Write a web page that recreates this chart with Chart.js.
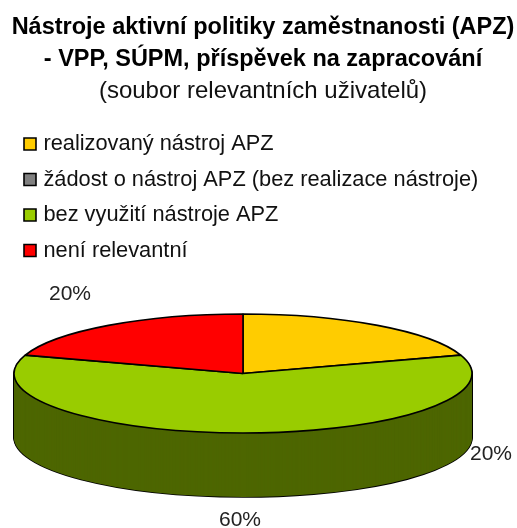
<!DOCTYPE html>
<html><head><meta charset="utf-8">
<style>html,body{margin:0;padding:0;background:#fff}canvas{display:block}</style>
<script src="https://cdn.jsdelivr.net/npm/chart.js@4"></script>
</head><body>
<canvas id="c" width="517" height="528"></canvas>
<script>
const categories = ["realizovaný nástroj APZ","žádost o nástroj APZ (bez realizace nástroje)","bez využití nástroje APZ","není relevantní"];
const values = [20,0,60,20];
const sliceColors = ["#FFCC00","#808080","#99CC00","#FF0000"];
const sideColors = ["#806600","#404040","#4D6600","#800000"];
const titleLines = ["Nástroje aktivní politiky zaměstnanosti (APZ)","- VPP, SÚPM, příspěvek na zapracování"];
const subtitleLine = "(soubor relevantních uživatelů)";

const pie3d = {cx:243, cy:373.5, rx:229, ry:59.5, depth:64, labelPos:[[491,454.5],null,[240,520],[70,294.5]]};
const legendBox = {left:13.8, top:119.4};

function strokeUntransformed(ctx, fn){
  const proto = CanvasRenderingContext2D.prototype;
  ctx.stroke = function(){ const m=ctx.getTransform(); ctx.setTransform(1,0,0,1,0,0); proto.stroke.call(ctx); ctx.setTransform(m); };
  fn();
  delete ctx.stroke;
}
const pie3dPlugin = {
  id:'pie3d',
  afterLayout(chart){
    const l = chart.legend;
    l.left = legendBox.left; l.top = legendBox.top;
    l.right = chart.width; l.bottom = chart.height;
  },
  beforeDatasetDraw(chart,args){
    const ctx = chart.ctx, arcs = args.meta.data, P = pie3d;
    const R = arcs[0].outerRadius, ox = arcs[0].x, oy = arcs[0].y;
    const place = dy => { ctx.setTransform(P.rx/R,0,0,P.ry/R,P.cx-ox*P.rx/R,P.cy+dy-oy*P.ry/R); };
    const drawWith = (arc,over) => {
      const saved = arc.options;
      const o = Object.create(saved);
      for (const k in over) Object.defineProperty(o,k,{value:over[k]});
      arc.options = o; arc.draw(ctx); arc.options = saved;
    };
    const order = arcs.map((a,i)=>i).sort((a,b)=>arcs[a].circumference-arcs[b].circumference);
    ctx.save();
    strokeUntransformed(ctx,()=>{
      for (let dy=P.depth; dy>=1; dy--){ place(dy); order.forEach(i=>drawWith(arcs[i],{backgroundColor:'#000',borderColor:'#000',borderWidth:1.6})); }
    });
    order.forEach(i=>{ for (let dy=P.depth; dy>=1; dy--){ place(dy); drawWith(arcs[i],{backgroundColor:sideColors[i],borderWidth:0}); } });
    place(0);
    strokeUntransformed(ctx,()=>{ arcs.forEach(a=>a.draw(ctx)); });
    ctx.restore();
    ctx.save();
    ctx.font = '21px "Liberation Sans"'; ctx.fillStyle='#222'; ctx.textAlign='center'; ctx.textBaseline='middle';
    values.forEach((v,i)=>{ if(v>0 && P.labelPos[i]) ctx.fillText(v+'%',P.labelPos[i][0],P.labelPos[i][1]); });
    ctx.restore();
    return false;
  }
};
new Chart(document.getElementById('c'),{
  type:'pie',
  plugins:[pie3dPlugin],
  data:{labels:categories,datasets:[{data:values,backgroundColor:sliceColors,borderColor:'#000',borderWidth:1.6,clip:false}]},
  options:{
    responsive:false,animation:false,
    layout:{padding:{top:12,left:9}},
    plugins:{
      tooltip:{enabled:false},
      title:{display:true,text:titleLines,color:'#000',font:{family:'"Liberation Sans"',size:23.5,weight:'bold',lineHeight:1.36},padding:{top:0,bottom:0}},
      subtitle:{display:true,text:subtitleLine,color:'#111',font:{family:'"Liberation Sans"',size:24,weight:'normal',lineHeight:1.25},padding:{top:0,bottom:8}},
      legend:{position:'chartArea',align:'start',labels:{color:'#111',font:{family:'"Liberation Sans"',size:21.8},usePointStyle:true,pointStyle:'rect',boxWidth:5,boxHeight:12,padding:13.7}}
    }
  }
});
</script>
</body></html>
